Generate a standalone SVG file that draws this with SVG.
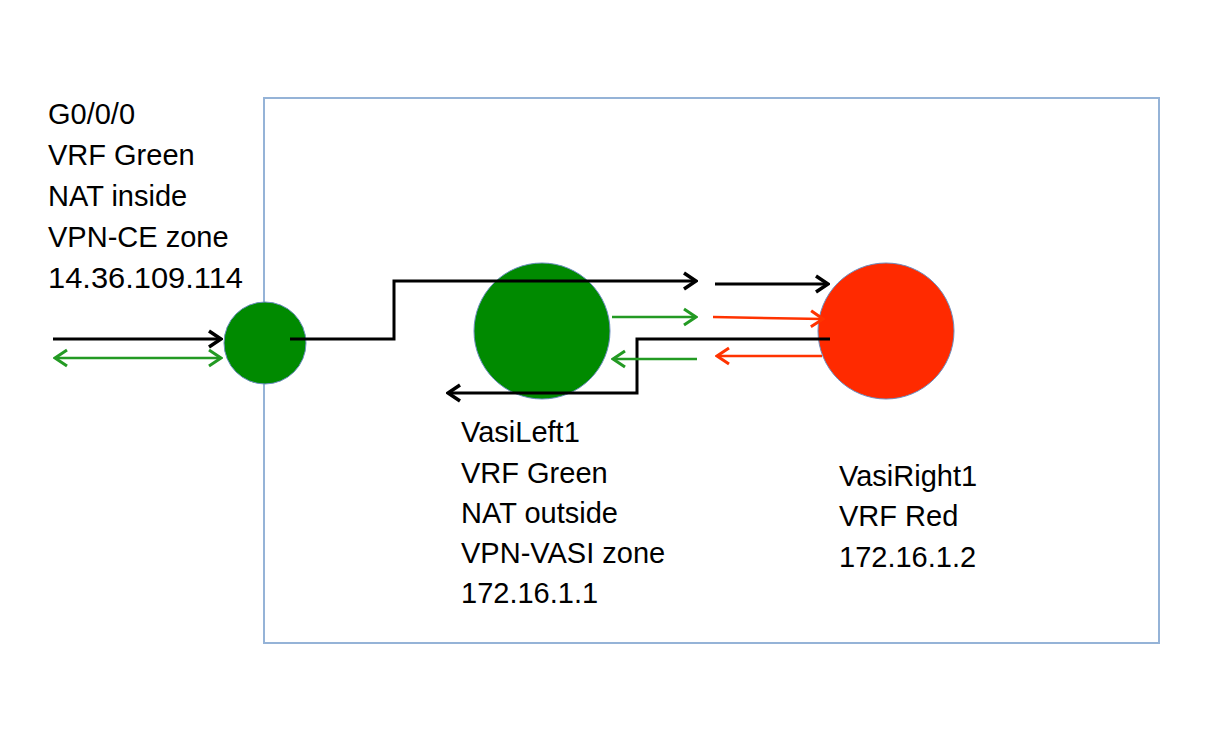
<svg xmlns="http://www.w3.org/2000/svg" width="1224" height="752" viewBox="0 0 1224 752">
<style>
  text { font-family: "Liberation Sans", Arial, sans-serif; font-size: 29px; fill: #000; }
  .box { fill: none; stroke: #95b3d7; stroke-width: 2; }
  .node { stroke: #6c8ebf; stroke-width: 1; }
  .blk { fill: none; stroke: #000; stroke-width: 3; }
  .grn { fill: none; stroke: #239a23; stroke-width: 2.5; }
  .red { fill: none; stroke: #ff3300; stroke-width: 2.5; }
</style>
<defs>
  <marker id="ab" markerUnits="userSpaceOnUse" markerWidth="16" markerHeight="20" viewBox="0 0 16 20" refX="14" refY="10" orient="auto-start-reverse">
    <path d="M2,2 L14,10 L2,18" fill="none" stroke="#000" stroke-width="3.5"/>
  </marker>
  <marker id="ag" markerUnits="userSpaceOnUse" markerWidth="16" markerHeight="20" viewBox="0 0 16 20" refX="14" refY="10" orient="auto-start-reverse">
    <path d="M2,2 L14,10 L2,18" fill="none" stroke="#239a23" stroke-width="3"/>
  </marker>
  <marker id="ar" markerUnits="userSpaceOnUse" markerWidth="16" markerHeight="20" viewBox="0 0 16 20" refX="14" refY="10" orient="auto-start-reverse">
    <path d="M2,2 L14,10 L2,18" fill="none" stroke="#ff3300" stroke-width="3"/>
  </marker>
</defs>
<rect width="1224" height="752" fill="#fff"/>
<rect id="router-box" class="box" x="264" y="98" width="895" height="545"/>

<g id="g000">
  <circle class="node" cx="265" cy="343" r="41" fill="#008a00"/>
  <text x="48" y="124">G0/0/0</text>
  <text x="48" y="165">VRF Green</text>
  <text x="48" y="206">NAT inside</text>
  <text x="48" y="247">VPN-CE zone</text>
  <text x="48" y="288" textLength="195" lengthAdjust="spacingAndGlyphs">14.36.109.114</text>
</g>

<g id="vasileft1">
  <circle class="node" cx="542" cy="331" r="68" fill="#008a00"/>
  <text x="461" y="442">VasiLeft1</text>
  <text x="461" y="483">VRF Green</text>
  <text x="461" y="523">NAT outside</text>
  <text x="461" y="563">VPN-VASI zone</text>
  <text x="461" y="603">172.16.1.1</text>
</g>

<g id="vasiright1">
  <circle class="node" cx="886" cy="331" r="68" fill="#ff2a00"/>
  <text x="839" y="486">VasiRight1</text>
  <text x="839" y="526">VRF Red</text>
  <text x="839" y="567">172.16.1.2</text>
</g>

<g id="connectors">
  <line class="blk" x1="53" y1="339" x2="221" y2="339" marker-end="url(#ab)"/>
  <line class="grn" x1="55" y1="358" x2="221" y2="358" marker-start="url(#ag)" marker-end="url(#ag)"/>
  <polyline class="blk" points="290,339 394,339 394,281 696,281" marker-end="url(#ab)"/>
  <line class="blk" x1="715" y1="284" x2="828" y2="284" marker-end="url(#ab)"/>
  <line class="grn" x1="612" y1="317" x2="696" y2="317" marker-end="url(#ag)"/>
  <line class="red" x1="713" y1="317" x2="823" y2="319" marker-end="url(#ar)"/>
  <polyline class="blk" points="830,339 637,339 637,393 448,393" marker-end="url(#ab)"/>
  <line class="grn" x1="697" y1="359" x2="613" y2="359" marker-end="url(#ag)"/>
  <line class="red" x1="822" y1="356" x2="717" y2="356" marker-end="url(#ar)"/>
</g>
</svg>
